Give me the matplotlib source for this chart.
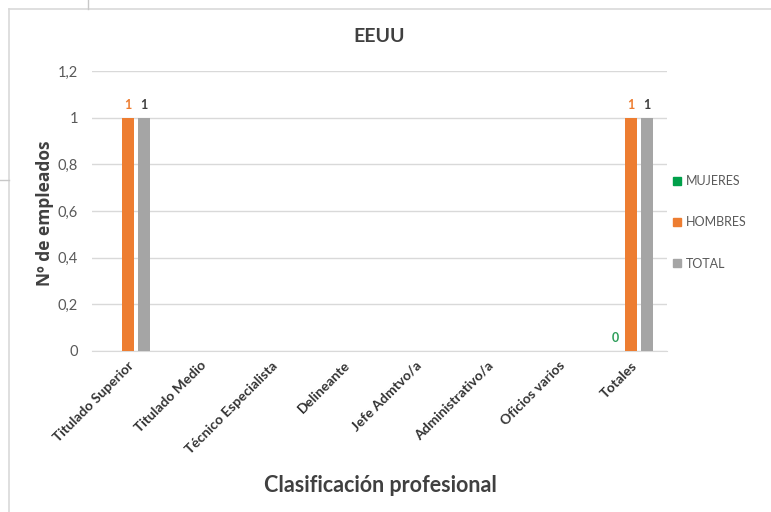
import matplotlib
matplotlib.use('Agg')
import matplotlib.pyplot as plt
import numpy as np
from matplotlib.lines import Line2D
from matplotlib.patches import Patch

plt.rcParams['font.family'] = ['Lato', 'DejaVu Sans']

# datos
categorias = ['Titulado Superior', 'Titulado Medio', 'Técnico Especialista',
              'Delineante', 'Jefe Admtvo/a', 'Administrativo/a',
              'Oficios varios', 'Totales']
nan = np.nan
mujeres = [nan, nan, nan, nan, nan, nan, nan, 0]
hombres = [1, nan, nan, nan, nan, nan, nan, 1]
total = [1, nan, nan, nan, nan, nan, nan, 1]
series = ['MUJERES', 'HOMBRES', 'TOTAL']
colores = ['#00A04A', '#ED7D31', '#A5A5A5']
col_etiq = ['#2E9E5B', '#ED7D31', '#404040']
yticks = [0, 0.2, 0.4, 0.6, 0.8, 1, 1.2]
ytick_txt = ['0', '0,2', '0,4', '0,6', '0,8', '1', '1,2']

W, H = 771, 512
fig = plt.figure(figsize=(W / 100, H / 100), dpi=100)
ax = fig.add_axes([92 / W, 1 - 351 / H, (667 - 92) / W, (351 - 71) / H])

x = np.arange(len(categorias))
ancho = 0.167
paso = 0.222
for i, (vals, col, ce) in enumerate(zip([mujeres, hombres, total], colores, col_etiq)):
    pos = x + (i - 1) * paso
    v = np.array(vals, dtype=float)
    ax.bar(pos, np.nan_to_num(v), width=ancho, color=col, zorder=3)
    for p, val in zip(pos, v):
        if not np.isnan(val):
            ax.text(p, val + 0.03, '%g' % val, ha='center', va='bottom',
                    fontsize=9, fontweight='bold', color=ce, zorder=4)

ax.set_xlim(-0.5, len(categorias) - 0.5)
ax.set_ylim(0, 1.2)
ax.set_yticks(yticks)
ax.set_yticklabels(ytick_txt, fontsize=10.5, color='#595959')
ax.grid(axis='y', color='#D9D9D9', linewidth=1, zorder=0)
ax.set_xticks(x)
ax.set_xticklabels(categorias, rotation=45, ha='right', rotation_mode='anchor',
                   fontsize=10, fontweight='bold', color='#333333')
ax.tick_params(axis='both', length=0)
ax.tick_params(axis='y', pad=10)
ax.tick_params(axis='x', pad=6)
for s in ['top', 'right', 'left']:
    ax.spines[s].set_visible(False)
ax.spines['bottom'].set_color('#D9D9D9')

ax.set_title('EEUU', fontsize=14, fontweight='bold', color='#404040', pad=21)
fig.text(45 / W, 1 - 213 / H, 'Nº de empleados', rotation=90, ha='center', va='center',
         fontsize=12.5, fontweight='bold', color='#404040', family=['Open Sans', 'DejaVu Sans'])
fig.text(380 / W, 1 - 485 / H, 'Clasificación profesional', ha='center', va='center',
         fontsize=15.5, fontweight='bold', color='#404040')

handles = [Patch(color=c) for c in colores]
fig.legend(handles, series, loc='upper left', bbox_to_anchor=(668 / W, 1 - 170 / H),
           frameon=False, fontsize=9, labelcolor='#595959', handlelength=0.6,
           handleheight=0.6, handletextpad=0.4, labelspacing=2.35, borderaxespad=0)

# bordes del grafico / celdas
lc = '#D9D9D9'
fig.add_artist(Line2D([9 / W, 1], [1 - 9 / H, 1 - 9 / H], color=lc, lw=1.2))
fig.add_artist(Line2D([9 / W, 9 / W], [0, 1 - 9 / H], color=lc, lw=1.2))
fig.add_artist(Line2D([88 / W, 88 / W], [1 - 9 / H, 1], color='#C8C8C8', lw=1))
fig.add_artist(Line2D([0, 9 / W], [1 - 180 / H, 1 - 180 / H], color='#C8C8C8', lw=1))

fig.savefig('out.png', dpi=100)
